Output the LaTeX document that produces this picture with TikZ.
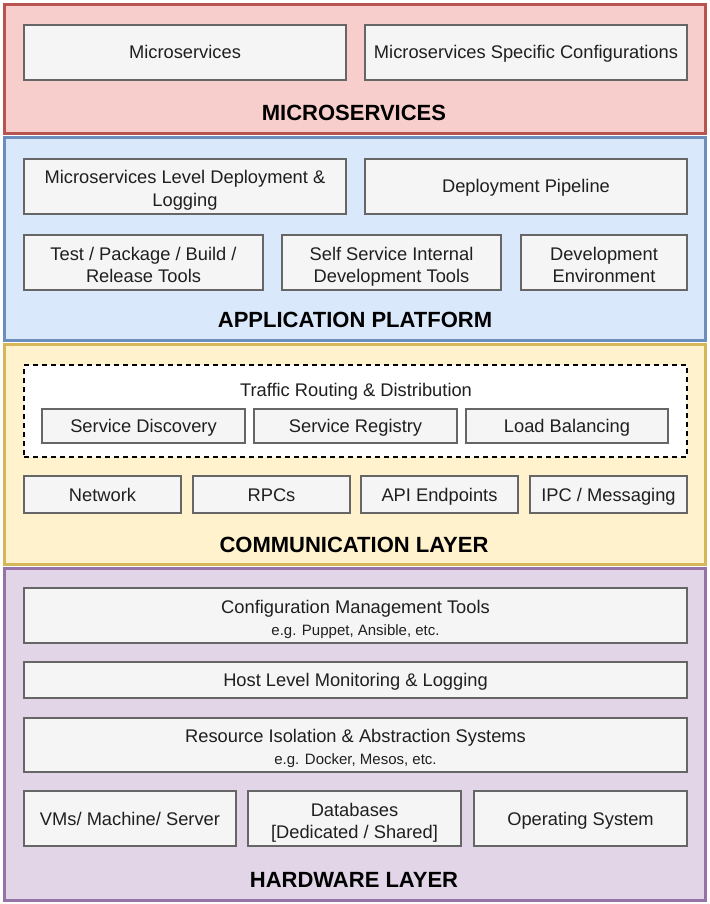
\documentclass[tikz,border=0pt]{standalone}
\usepackage{fontspec}
\setmainfont{Liberation Sans}
\definecolor{redfill}{HTML}{F8CECC}\definecolor{redline}{HTML}{B85450}
\definecolor{bluefill}{HTML}{DAE8FC}\definecolor{blueline}{HTML}{6C8EBF}
\definecolor{yelfill}{HTML}{FFF2CC}\definecolor{yelline}{HTML}{D6B656}
\definecolor{purfill}{HTML}{E1D5E7}\definecolor{purline}{HTML}{9673A6}
\definecolor{boxfill}{HTML}{F5F5F5}\definecolor{boxline}{HTML}{666666}
\newcommand\mystrut{\rule[-4pt]{0pt}{21pt}}
\newcommand\fs{\rule{0pt}{21pt}}
\tikzset{
  layer/.style={draw=#1line, fill=#1fill, line width=3pt, inner sep=0pt},
  struts/.style={execute at begin node={\mystrut}, execute at end node={\mystrut}},
  inbox/.style={draw=boxline, fill=boxfill, line width=1.3pt, inner sep=0pt, align=center,
    font=\fontsize{18.3}{22}\selectfont, text=black!88, struts},
  dashbox/.style={draw=black, fill=white, line width=1.3pt, dash pattern=on 5pt off 4pt, inner sep=0pt},
  plain/.style={inner sep=0pt, font=\fontsize{18.3}{22}\selectfont, text=black!88, struts},
  layerlabel/.style={inner sep=0pt, font=\fontsize{22}{26}\selectfont\bfseries},
}
\newcommand\subtxt[1]{{\fontsize{15}{18}\selectfont #1}}
% \bx[style]{name}{x1}{y1}{x2}{y2}{text}
\newcommand\bx[7][inbox]{\node[#1, minimum width={(#5-#3)*1pt}, minimum height={(#6-#4)*1pt}]
  (#2) at ({(#3+#5)/2},{(#4+#6)/2}) {#7};}
\begin{document}
\begin{tikzpicture}[x=1pt,y=-1pt]
\useasboundingbox (0,0) rectangle (709,904);
% layers
\bx[layer=red]{Lms}{4}{5}{705}{134}{}
\bx[layer=blue]{Lap}{4}{138}{705}{340}{}
\bx[layer=yel]{Lcl}{4}{344}{705}{564}{}
\bx[layer=pur]{Lhw}{4}{568}{705}{900}{}
% microservices
\bx{m1}{24}{25}{346}{80}{Microservices}
\bx{m2}{365}{25}{687}{80}{Microservices Specific Configurations}
\node[layerlabel] (lms) at (354,113) {MICROSERVICES};
% application platform
\bx{a1}{24}{159}{346}{214}{\fs Microservices Level Deployment \&\\Logging}
\bx{a2}{365}{159}{687}{214}{Deployment Pipeline}
\bx{a3}{24}{235}{263}{290}{\fs Test / Package / Build /\\Release Tools}
\bx{a4}{282}{235}{501}{290}{\fs Self Service Internal\\Development Tools}
\bx{a5}{521}{235}{687}{290}{\fs Development\\Environment}
\node[layerlabel] (lap) at (355,320) {APPLICATION PLATFORM};
% communication layer
\bx[dashbox]{tr}{24}{365}{687}{457}{}
\node[plain] (trt) at (356,390) {Traffic Routing \& Distribution};
\bx{c1}{42}{409}{245}{443}{Service Discovery}
\bx{c2}{254}{409}{457}{443}{Service Registry}
\bx{c3}{466}{409}{668}{443}{Load Balancing}
\bx{c4}{24}{476}{181}{513}{Network}
\bx{c5}{193}{476}{350}{513}{RPCs}
\bx{c6}{361}{476}{518}{513}{API Endpoints}
\bx{c7}{530}{476}{687}{513}{IPC / Messaging}
\node[layerlabel] (lcl) at (354,545) {COMMUNICATION LAYER};
% hardware layer
\bx{h1}{24}{588}{687}{643}{\fs Configuration Management Tools\\\subtxt{e.g. Puppet, Ansible, etc.}}
\bx{h2}{24}{662}{687}{698}{Host Level Monitoring \& Logging}
\bx{h3}{24}{718}{687}{772}{\fs Resource Isolation \& Abstraction Systems\\\subtxt{e.g. Docker, Mesos, etc.}}
\bx{h4}{24}{791}{236}{846}{VMs/ Machine/ Server}
\bx{h5}{248}{791}{461}{846}{\fs Databases\\{}[Dedicated / Shared]}
\bx{h6}{474}{791}{687}{846}{Operating System}
\node[layerlabel] (lhw) at (354,880) {HARDWARE LAYER};
\end{tikzpicture}
\end{document}
